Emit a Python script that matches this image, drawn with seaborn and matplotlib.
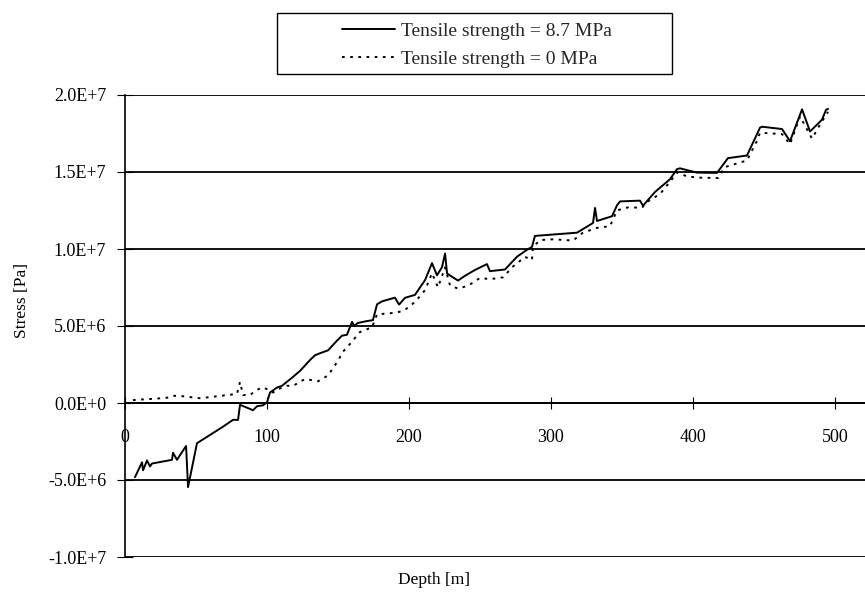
import matplotlib
matplotlib.use("Agg")
import matplotlib.pyplot as plt
from matplotlib.patches import Rectangle
import seaborn as sns
import pandas as pd

# Depth [m] and stress [Pa] along the profile, tensile strength 8.7 MPa
depth_ts87 = [7.0, 12.0, 12.7, 15.5, 17.6, 19.0, 33.1, 33.8, 36.6, 43.0, 44.4, 50.7,
              69.0, 76.1, 79.6, 81.0, 86.6, 90.1, 93.0, 97.2, 100.0, 102.1, 107.0,
              110.6, 117.6, 123.2, 130.3, 133.8, 137.3, 143.0, 149.3, 152.8, 156.3,
              159.9, 161.3, 164.1, 170.4, 174.6, 177.5, 181.0, 190.1, 193.0, 197.2,
              204.2, 211.3, 216.2, 219.7, 223.2, 225.4, 226.8, 234.5, 239.4, 246.5,
              254.9, 257.0, 267.6, 276.1, 283.1, 286.6, 288.7, 318.3, 329.6, 331.0,
              332.4, 343.0, 346.5, 348.6, 362.7, 364.8, 373.2, 383.8, 388.7, 390.8,
              402.8, 416.9, 424.6, 438.0, 447.2, 448.6, 462.7, 468.3, 476.8, 482.4,
              490.8, 493.7, 495.1]
stress_ts87 = [-4.82e6, -3.85e6, -4.37e6, -3.73e6, -4.12e6, -3.93e6, -3.69e6, -3.23e6,
               -3.69e6, -2.79e6, -5.46e6, -2.61e6, -1.54e6, -1.09e6, -1.10e6, -0.12e6,
               -0.33e6, -0.47e6, -0.21e6, -0.15e6, 0.04e6, 0.68e6, 1.00e6, 1.12e6,
               1.64e6, 2.08e6, 2.79e6, 3.10e6, 3.23e6, 3.42e6, 4.05e6, 4.37e6, 4.43e6,
               5.27e6, 5.01e6, 5.20e6, 5.32e6, 5.38e6, 6.41e6, 6.60e6, 6.84e6, 6.39e6,
               6.83e6, 7.02e6, 7.98e6, 9.08e6, 8.29e6, 8.81e6, 9.71e6, 8.41e6, 7.95e6,
               8.26e6, 8.64e6, 9.02e6, 8.56e6, 8.67e6, 9.50e6, 9.95e6, 10.14e6, 10.85e6,
               11.06e6, 11.69e6, 12.67e6, 11.82e6, 12.13e6, 12.84e6, 13.09e6, 13.14e6,
               12.81e6, 13.70e6, 14.53e6, 15.18e6, 15.24e6, 14.96e6, 14.94e6, 15.90e6,
               16.07e6, 17.88e6, 17.94e6, 17.79e6, 17.00e6, 19.07e6, 17.63e6, 18.39e6,
               19.04e6, 19.10e6]

# Same profile with zero tensile strength
depth_ts0 = [5.6, 14.0, 22.5, 29.6, 33.1, 38.7, 52.8, 69.0, 78.9, 81.0, 83.1, 88.0,
             91.5, 96.5, 100.7, 104.2, 107.0, 114.1, 118.3, 121.8, 126.8, 135.9, 143.0,
             150.0, 153.5, 158.5, 165.5, 174.0, 177.5, 184.5, 191.5, 197.2, 204.2,
             211.3, 216.2, 220.4, 225.4, 228.9, 234.5, 241.5, 250.0, 257.0, 266.2,
             273.2, 281.7, 286.6, 287.3, 292.3, 301.4, 315.5, 322.5, 332.4, 341.5,
             346.5, 354.2, 364.1, 367.6, 376.8, 385.2, 388.7, 395.8, 404.9, 417.6,
             422.5, 438.0, 445.1, 447.2, 462.7, 468.3, 475.4, 483.8, 489.4, 493.7, 495.1]
stress_ts0 = [0.19e6, 0.24e6, 0.29e6, 0.34e6, 0.47e6, 0.46e6, 0.31e6, 0.48e6, 0.59e6,
              1.37e6, 0.52e6, 0.51e6, 0.77e6, 1.02e6, 0.88e6, 0.68e6, 0.87e6, 1.12e6,
              1.11e6, 1.30e6, 1.56e6, 1.41e6, 1.79e6, 2.75e6, 3.33e6, 3.84e6, 4.61e6,
              4.92e6, 5.76e6, 5.81e6, 5.87e6, 6.05e6, 6.56e6, 7.33e6, 8.43e6, 7.51e6,
              8.80e6, 7.63e6, 7.43e6, 7.61e6, 8.12e6, 8.04e6, 8.16e6, 8.86e6, 9.49e6,
              9.29e6, 10.14e6, 10.58e6, 10.63e6, 10.55e6, 11.06e6, 11.37e6, 11.48e6,
              12.51e6, 12.70e6, 12.68e6, 13.06e6, 13.57e6, 14.53e6, 14.98e6, 14.71e6,
              14.63e6, 14.61e6, 15.32e6, 15.75e6, 17.03e6, 17.55e6, 17.46e6, 16.80e6,
              18.61e6, 17.17e6, 18.07e6, 18.71e6, 18.90e6]

series_labels = ["Tensile strength = 8.7 MPa", "Tensile strength = 0 MPa"]
x_ticks = [0, 100, 200, 300, 400, 500]
y_ticks = [-1.0e7, -5.0e6, 0.0, 5.0e6, 1.0e7, 1.5e7, 2.0e7]
y_tick_labels = ["-1.0E+7", "-5.0E+6", "0.0E+0", "5.0E+6", "1.0E+7", "1.5E+7", "2.0E+7"]

df = pd.concat([
    pd.DataFrame({"Depth": depth_ts87, "Stress": stress_ts87, "Case": series_labels[0]}),
    pd.DataFrame({"Depth": depth_ts0, "Stress": stress_ts0, "Case": series_labels[1]}),
], ignore_index=True)

sns.set_theme(style="white")
plt.rcParams["font.family"] = ["Liberation Serif", "DejaVu Serif"]

W, H = 865, 596
fig = plt.figure(figsize=(W / 100, H / 100), dpi=100)
ax = fig.add_axes([125 / W, 1 - 557 / H, 1 - 125 / W, (557 - 95) / H])

sns.lineplot(data=df, x="Depth", y="Stress", hue="Case", style="Case",
             hue_order=series_labels, style_order=series_labels,
             palette=["black", "black"], dashes=[(None, None), (1.4, 2.8)],
             estimator=None, sort=False, linewidth=1.4, ax=ax, legend=False)

ax.set_xlim(0, (W - 125) / 1.42)
ax.set_ylim(-1.0e7, 2.0e7)

# horizontal gridlines across the plot
ax.set_yticks(y_ticks)
ax.set_yticklabels(y_tick_labels)
ax.yaxis.grid(True, color="black", linewidth=1.3)
ax.xaxis.grid(False)
ax.set_axisbelow(True)

# depth axis runs along zero stress
ax.spines["bottom"].set_position(("data", 0))
ax.spines["top"].set_visible(False)
ax.spines["right"].set_visible(False)
for s in ("left", "bottom"):
    ax.spines[s].set_color("black")
    ax.spines[s].set_linewidth(1.2)

ax.set_xticks(x_ticks)
ax.set_xticklabels([str(v) for v in x_ticks])
ax.tick_params(axis="x", direction="inout", length=8, width=0.8, pad=15,
               labelsize=13, colors="black", bottom=True)
ax.tick_params(axis="y", direction="inout", length=11, width=0.8, pad=8,
               labelsize=13, colors="black", left=True)

ax.set_xlabel("Depth [m]", fontsize=12.5, color="black")
ax.set_ylabel("Stress [Pa]", fontsize=12.5, color="black")
ax.xaxis.set_label_coords((434 - 125) / (W - 125), -(580 - 557) / (557 - 95))
ax.yaxis.set_label_coords(-(125 - 22) / (W - 125), (557 - 300) / (557 - 95))
ax.yaxis.label.set_va("center")
ax.xaxis.label.set_va("center")

# legend above the plot, framed by a plain rectangle
handles = ax.get_lines()[:2]
leg = fig.legend(handles, series_labels, loc="upper left",
                 bbox_to_anchor=(342 / W, 1 - 22 / H), bbox_transform=fig.transFigure,
                 frameon=False, fontsize=14, handlelength=2.75, handletextpad=0.3,
                 labelspacing=0.55, borderpad=0, borderaxespad=0)
fig.patches.append(Rectangle((277 / W, 1 - 74 / H), (672 - 277) / W, (74 - 13) / H,
                             transform=fig.transFigure, fill=False,
                             edgecolor="black", linewidth=1.0))

fig.savefig("out.png", dpi=100, facecolor="white")
